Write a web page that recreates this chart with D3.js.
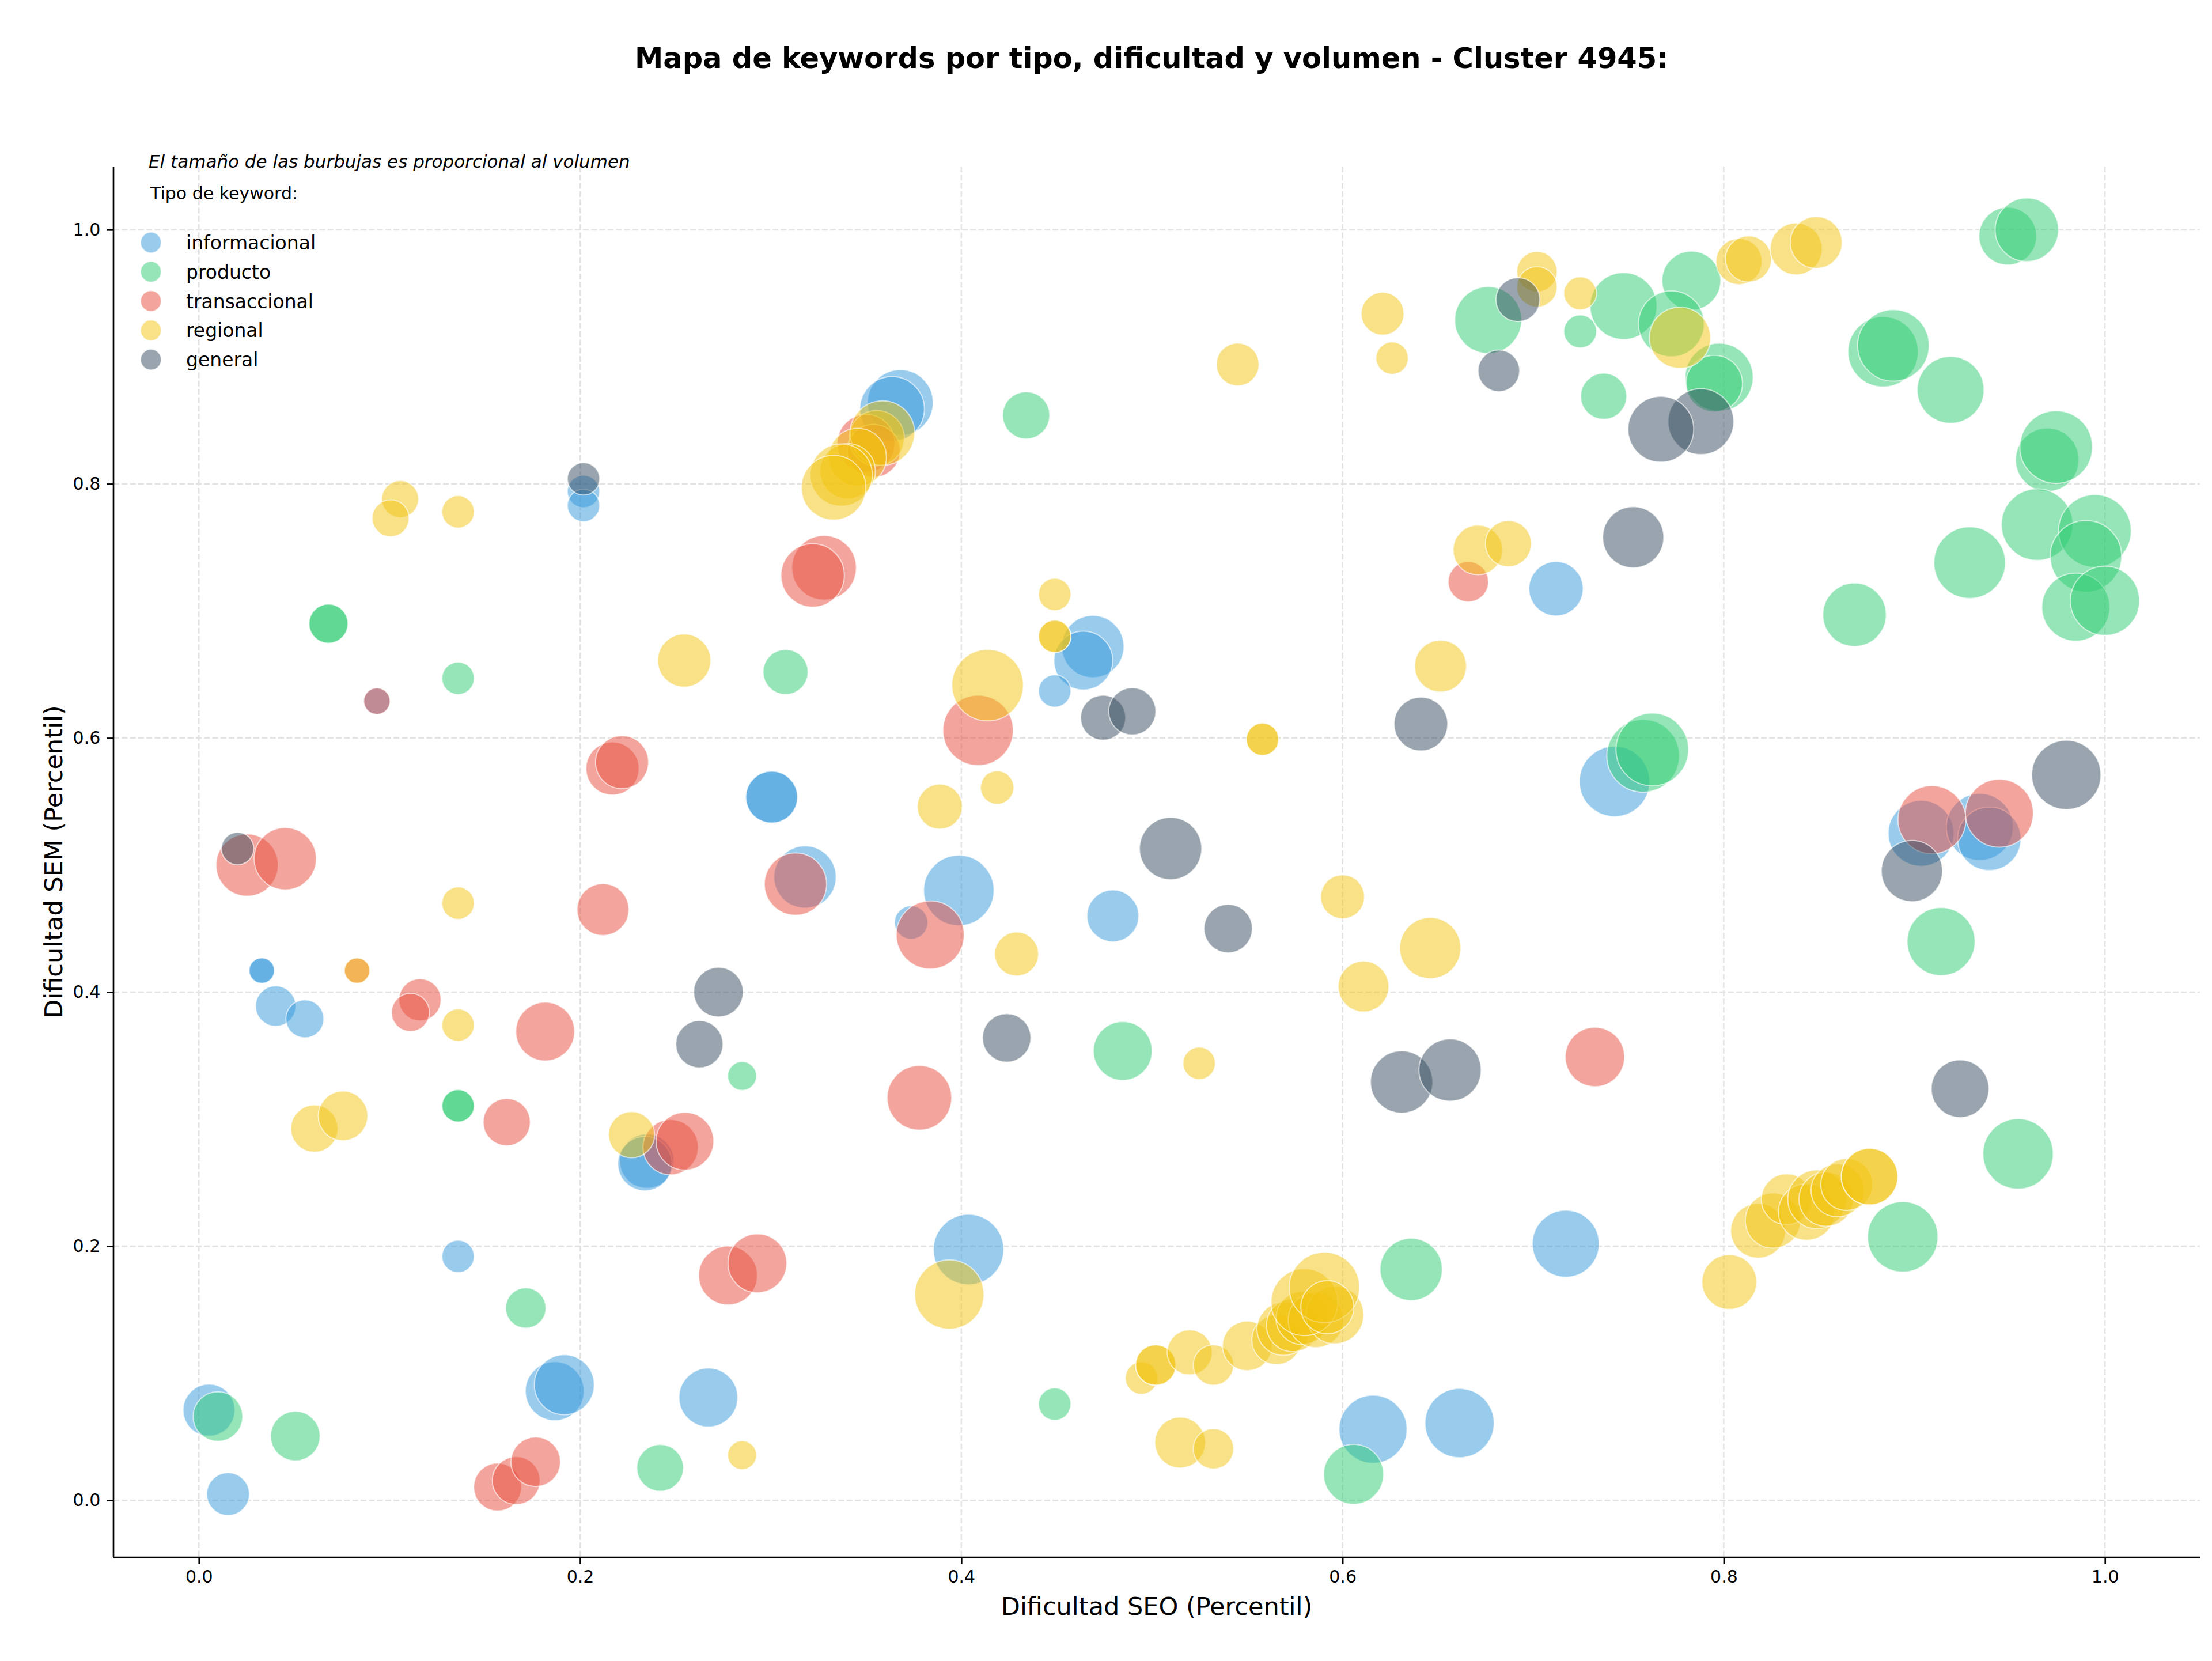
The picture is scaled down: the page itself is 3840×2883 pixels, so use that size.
<!DOCTYPE html>
<html>
<head>
<meta charset="utf-8">
<script src="https://cdn.jsdelivr.net/npm/d3@7"></script>
<style>
  html, body { margin: 0; padding: 0; background: #ffffff; }
  svg { display: block; font-family: "DejaVu Sans", sans-serif; }
</style>
</head>
<body>
<svg id="chart" width="3840" height="2883"></svg>
<script>
// ---------------- DATA ----------------
const tipos = ["informacional", "producto", "transaccional", "regional", "general"];
const colores = ["#3498db", "#2ecc71", "#e74c3c", "#f1c40f", "#34495e"];
const ticksX = [0.0, 0.2, 0.4, 0.6, 0.8, 1.0];
const ticksY = [0.0, 0.2, 0.4, 0.6, 0.8, 1.0];

// informacional
const infoSEO = [0.2018, 0.2018, 0.368, 0.3637, 0.469, 0.464, 0.712, 0.0934, 0.033, 0.033, 0.0403, 0.0556,
  0.3005, 0.3005, 0.449, 0.318, 0.3987, 0.3737, 0.4795, 0.235, 0.234, 0.136, 0.1867, 0.1917, 0.2673, 0.0053,
  0.0153, 0.4038, 0.616, 0.6614, 0.7171, 0.7427, 0.9035, 0.9343, 0.9393];
const infoSEM = [0.794, 0.783, 0.864, 0.859, 0.672, 0.661, 0.7175, 0.629, 0.417, 0.417, 0.389, 0.379,
  0.5535, 0.5535, 0.637, 0.4906, 0.48, 0.4548, 0.46, 0.267, 0.265, 0.192, 0.086, 0.091, 0.081, 0.071,
  0.005, 0.1974, 0.056, 0.0608, 0.202, 0.5658, 0.525, 0.53, 0.5207];
const infoVol = [630, 630, 2600, 2510, 2330, 2080, 1770, 420, 390, 390, 980, 870,
  1620, 1620, 630, 2330, 2980, 670, 1620, 1770, 1770, 630, 2080, 2160, 2080, 1620,
  1100, 2980, 2780, 2880, 2690, 2980, 2600, 2690, 2420];

// producto
const prodSEO = [0.068, 0.068, 0.136, 0.434, 0.6764, 0.7247, 0.7474, 0.783, 0.7725, 0.7976, 0.795, 0.737,
  0.949, 0.959, 0.8836, 0.889, 0.919, 0.9697, 0.9744, 0.9644, 0.9947, 0.99, 0.929, 0.8686, 0.9847, 1.0,
  0.3078, 0.136, 0.136, 0.285, 0.1715, 0.01, 0.0506, 0.242, 0.449, 0.4847, 0.636, 0.6058, 0.9544, 0.8939,
  0.7577, 0.7625, 0.914];
const prodSEM = [0.69, 0.69, 0.647, 0.854, 0.929, 0.92, 0.94, 0.96, 0.926, 0.884, 0.879, 0.869,
  0.995, 1.0, 0.904, 0.909, 0.874, 0.819, 0.829, 0.768, 0.763, 0.743, 0.738, 0.697, 0.703, 0.708,
  0.652, 0.3105, 0.3105, 0.334, 0.1514, 0.066, 0.0506, 0.0256, 0.0758, 0.3537, 0.1818, 0.0205, 0.2727, 0.2074,
  0.586, 0.591, 0.4398];
const prodVol = [920, 920, 630, 1340, 2690, 650, 2690, 2080, 2600, 2780, 1920, 1280,
  2000, 2420, 2980, 3080, 2690, 2420, 3180, 3080, 3180, 3080, 3080, 2420, 2780, 2880,
  1220, 630, 630, 500, 980, 1480, 1480, 1310, 630, 2080, 2330, 2160, 2980, 2980,
  3180, 3180, 2780];

// transaccional
const tranSEO = [0.350, 0.354, 0.328, 0.322, 0.666, 0.0934, 0.0253, 0.0453, 0.217, 0.222, 0.212, 0.083,
  0.116, 0.111, 0.1817, 0.1615, 0.2475, 0.255, 0.2776, 0.293, 0.1567, 0.1665, 0.1767, 0.4088, 0.313,
  0.3837, 0.378, 0.9092, 0.9446, 0.7324];
const tranSEM = [0.832, 0.826, 0.734, 0.728, 0.723, 0.629, 0.50, 0.505, 0.576, 0.581, 0.465, 0.417,
  0.394, 0.384, 0.369, 0.2977, 0.278, 0.2827, 0.177, 0.1866, 0.0105, 0.0156, 0.0304, 0.606, 0.485,
  0.445, 0.3168, 0.5357, 0.5408, 0.349];
const tranVol = [2000, 1690, 2510, 2420, 980, 420, 2330, 2330, 1690, 1690, 1620, 390,
  1070, 870, 2080, 1340, 1840, 2000, 2080, 2080, 1380, 1380, 1480, 2980, 2330,
  2780, 2510, 2780, 2780, 2120];

// regional
const regSEO = [0.1056, 0.1006, 0.136, 0.3556, 0.3586, 0.3456, 0.3404, 0.337, 0.333, 0.545, 0.621, 0.626,
  0.449, 0.449, 0.449, 0.671, 0.687, 0.702, 0.702, 0.7247, 0.777, 0.808, 0.813, 0.838, 0.8485,
  0.2546, 0.136, 0.083, 0.136, 0.0606, 0.0756, 0.227, 0.285, 0.4138, 0.558, 0.558, 0.6514, 0.3887,
  0.4188, 0.429, 0.6, 0.646, 0.611, 0.5248, 0.3937,
  0.4945, 0.502, 0.502, 0.5198, 0.5323, 0.55, 0.5654, 0.569, 0.574, 0.579, 0.586, 0.596, 0.58, 0.5905, 0.592,
  0.5148, 0.5323, 0.8029,
  0.818, 0.8258, 0.833, 0.8435, 0.849, 0.8537, 0.8597, 0.8645, 0.8765, 0.8765];
const regSEM = [0.788, 0.773, 0.778, 0.836, 0.84, 0.821, 0.81, 0.807, 0.797, 0.894, 0.934, 0.899,
  0.713, 0.68, 0.68, 0.748, 0.753, 0.967, 0.955, 0.95, 0.915, 0.975, 0.977, 0.985, 0.99,
  0.661, 0.47, 0.417, 0.374, 0.2926, 0.3026, 0.2878, 0.0356, 0.6416, 0.599, 0.599, 0.6566, 0.546,
  0.561, 0.43, 0.475, 0.4347, 0.4044, 0.344, 0.162,
  0.0963, 0.1065, 0.1065, 0.1165, 0.1065, 0.1216, 0.1264, 0.135, 0.1378, 0.1435, 0.142, 0.146, 0.156, 0.1676, 0.152,
  0.0455, 0.0406, 0.1719,
  0.2122, 0.2202, 0.237, 0.227, 0.237, 0.237, 0.244, 0.2486, 0.2548, 0.2548];
const regVol = [820, 820, 630, 1840, 2510, 2000, 1840, 2330, 2510, 1100, 1100, 630,
  630, 630, 630, 1480, 1280, 980, 980, 650, 2250, 1280, 1280, 1620, 1620,
  1690, 630, 390, 630, 1340, 1480, 1280, 500, 3080, 630, 630, 1620, 1220,
  670, 1160, 1160, 2250, 1550, 630, 2880,
  630, 980, 980, 1220, 980, 1480, 1480, 1690, 1690, 1690, 1840, 2000, 2690, 2980, 1690,
  1550, 980, 1800,
  1800, 1840, 1550, 1920, 2080, 1770, 1690, 1620, 1920, 1920];

// general
const genSEO = [0.2018, 0.692, 0.682, 0.788, 0.767, 0.7525, 0.0203, 0.2726, 0.2626, 0.4744, 0.4897, 0.6411,
  0.5098, 0.54, 0.4238, 0.631, 0.6564, 0.924, 0.8987, 0.9797];
const genSEM = [0.804, 0.945, 0.889, 0.849, 0.843, 0.758, 0.513, 0.4, 0.359, 0.616, 0.621, 0.611,
  0.513, 0.45, 0.364, 0.3293, 0.3387, 0.324, 0.4953, 0.571];
const genVol = [630, 1160, 1040, 2600, 2600, 2250, 630, 1480, 1340, 1220, 1340, 1730,
  2330, 1410, 1410, 2330, 2330, 2000, 2250, 2880];

const seriesSEO = [infoSEO, prodSEO, tranSEO, regSEO, genSEO];
const seriesSEM = [infoSEM, prodSEM, tranSEM, regSEM, genSEM];
const seriesVol = [infoVol, prodVol, tranVol, regVol, genVol];

const titulo = "Mapa de keywords por tipo, dificultad y volumen - Cluster 4945:";
const nota = "El tamaño de las burbujas es proporcional al volumen";
const tituloLeyenda = "Tipo de keyword:";
const etiquetaX = "Dificultad SEO (Percentil)";
const etiquetaY = "Dificultad SEM (Percentil)";

// ---------------- LAYOUT ----------------
const svg = d3.select("#chart");
const L = 197, R = 3819, T = 289, B = 2703;

const x = d3.scaleLinear().domain([-0.0448, 1.0498]).range([L, R]);
const y = d3.scaleLinear().domain([-0.0448, 1.0498]).range([B, T]);
const r = d3.scaleSqrt().domain([0, 3200]).range([0, 63.25]);

// grid
const grid = svg.append("g");
grid.selectAll("line.gx").data(ticksX).enter().append("line")
  .attr("x1", d => x(d)).attr("x2", d => x(d)).attr("y1", T).attr("y2", B)
  .attr("stroke", "#e3e3e3").attr("stroke-width", 2.6).attr("stroke-dasharray", "10,4.3");
grid.selectAll("line.gy").data(ticksY).enter().append("line")
  .attr("y1", d => y(d)).attr("y2", d => y(d)).attr("x1", L).attr("x2", R)
  .attr("stroke", "#e3e3e3").attr("stroke-width", 2.6).attr("stroke-dasharray", "10,4.3");

// bubbles
const plot = svg.append("g");
seriesSEO.forEach((xs, k) => {
  const pts = xs.map((v, i) => ({sx: v, sy: seriesSEM[k][i], vol: seriesVol[k][i]}));
  plot.append("g").selectAll("circle").data(pts).enter().append("circle")
    .attr("cx", d => x(d.sx)).attr("cy", d => y(d.sy)).attr("r", d => r(d.vol))
    .attr("fill", colores[k]).attr("fill-opacity", 0.5)
    .attr("stroke", "#ffffff").attr("stroke-opacity", 0.6).attr("stroke-width", 2);
});

// axes
const fontTick = 30;
const xAxis = d3.axisBottom(x).tickValues(ticksX).tickFormat(d3.format(".1f")).tickSize(11.7).tickPadding(11);
const yAxis = d3.axisLeft(y).tickValues(ticksY).tickFormat(d3.format(".1f")).tickSize(11.7).tickPadding(11);

const gx = svg.append("g").attr("transform", `translate(0,${B})`).call(xAxis);
const gy = svg.append("g").attr("transform", `translate(${L},0)`).call(yAxis);
gx.select(".domain").attr("d", `M${L},0H${R}`);
gy.select(".domain").attr("d", `M0,${B}V${T}`);
[gx, gy].forEach(g => {
  g.select(".domain").attr("stroke", "#000").attr("stroke-width", 2.67);
  g.selectAll(".tick line").attr("stroke", "#000").attr("stroke-width", 2.67);
  g.selectAll(".tick text").attr("font-size", fontTick).attr("fill", "#000")
    .attr("font-family", "DejaVu Sans");
});

// axis labels
svg.append("text").attr("x", (L + R) / 2).attr("y", 2803).attr("text-anchor", "middle")
  .attr("font-size", 43).attr("fill", "#000").text(etiquetaX);
svg.append("text").attr("transform", `translate(108,${(T + B) / 2}) rotate(-90)`)
  .attr("text-anchor", "middle").attr("font-size", 43).attr("fill", "#000").text(etiquetaY);

// title
svg.append("text").attr("x", 1999).attr("y", 118).attr("text-anchor", "middle")
  .attr("font-size", 49.5).attr("font-weight", "bold").attr("fill", "#000").text(titulo);

// note
svg.append("text").attr("x", 258).attr("y", 291).attr("font-size", 31).attr("font-style", "italic")
  .attr("fill", "#000").text(nota);

// legend
svg.append("text").attr("x", 261).attr("y", 346).attr("font-size", 30).attr("fill", "#000").text(tituloLeyenda);
const leg = svg.append("g");
tipos.forEach((t, i) => {
  const cy = 421 + i * 50.8;
  leg.append("circle").attr("cx", 262).attr("cy", cy).attr("r", 18)
    .attr("fill", colores[i]).attr("fill-opacity", 0.5)
    .attr("stroke", "#fff").attr("stroke-opacity", 0.6).attr("stroke-width", 2);
  leg.append("text").attr("x", 323).attr("y", cy + 12).attr("font-size", 33).attr("fill", "#000").text(t);
});
</script>
</body>
</html>
